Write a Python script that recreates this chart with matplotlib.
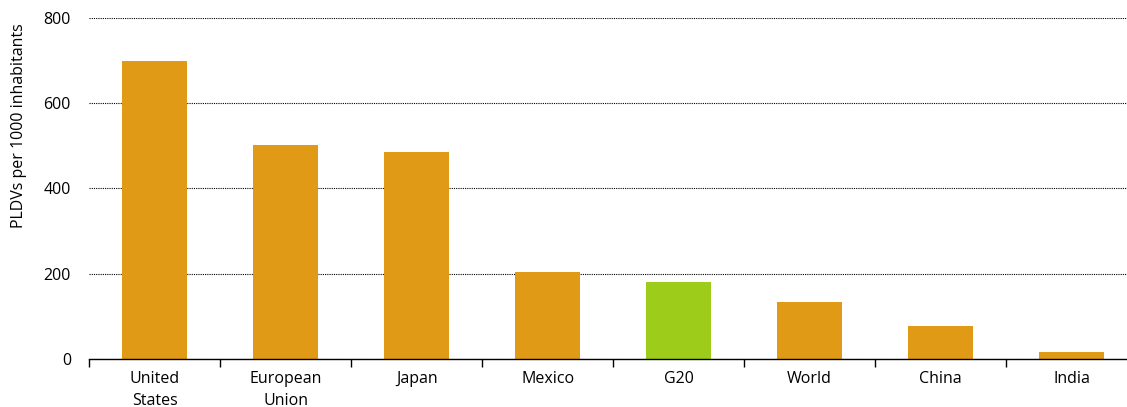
import numpy as np
import matplotlib.pyplot as plt
from matplotlib.ticker import FixedLocator, NullFormatter

# data
regions = ['United\nStates', 'European\nUnion', 'Japan', 'Mexico', 'G20', 'World', 'China', 'India']
pldv = [698, 501, 486, 204, 181, 134, 77, 17]
highlight = 'G20'

orange = '#E09A16'
green = '#9ECC1A'
colors = [green if r == highlight else orange for r in regions]

plt.rcParams['font.family'] = ['Open Sans', 'DejaVu Sans']

fig = plt.figure(figsize=(11.27, 4.07), dpi=100)
# plot area runs past the right edge of the picture, as in the reference
ax = fig.add_axes([0.079, 0.118, 0.930, 0.838])

x = np.arange(len(regions))
ax.bar(x, pldv, width=0.5, color=colors, zorder=3)

ax.set_xlim(-0.5, len(regions) - 0.5)
ax.set_ylim(0, 800)
ax.set_yticks([0, 200, 400, 600, 800])
ax.tick_params(axis='y', length=0, labelsize=11.5, pad=13)
ax.yaxis.grid(True, linestyle=(0, (1, 1)), color='black', linewidth=0.8, zorder=0)

# labels at centres, tick marks at category boundaries
ax.set_xticks(x)
ax.set_xticklabels(regions, fontsize=11.5, linespacing=1.45)
ax.tick_params(axis='x', which='major', length=0, pad=9)
ax.xaxis.set_minor_locator(FixedLocator(np.arange(-0.5, len(regions), 1.0)))
ax.xaxis.set_minor_formatter(NullFormatter())
ax.tick_params(axis='x', which='minor', length=6, width=1, direction='out', color='black')

for s in ['top', 'right', 'left']:
    ax.spines[s].set_visible(False)
ax.spines['bottom'].set_linewidth(1)
ax.spines['bottom'].set_zorder(4)

ax.set_ylabel('PLDVs per 1000 inhabitants', fontsize=11.5)
ax.yaxis.set_label_coords(-0.059, 0.683)

fig.savefig('out.png', dpi=100)
